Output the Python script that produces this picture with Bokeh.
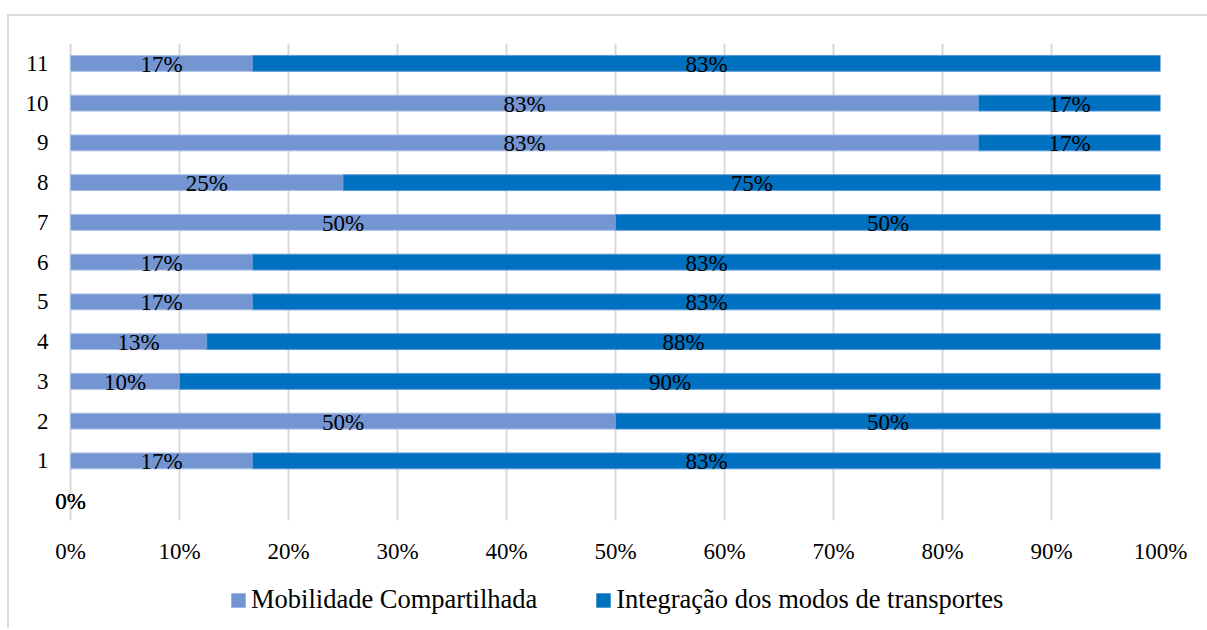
from bokeh.plotting import figure
from bokeh.layouts import column
from bokeh.models import ColumnDataSource, Range1d, FixedTicker, PrintfTickFormatter, Legend, LegendItem
from bokeh.core.properties import value
from bokeh.embed import file_html
from bokeh.resources import INLINE

# ---- data ----
categories = ["", "1", "2", "3", "4", "5", "6", "7", "8", "9", "10", "11"]
mobilidade = [0, 16.7, 50, 10, 12.5, 16.7, 16.7, 50, 25, 83.3, 83.3, 16.7]
integracao = [0, 83.3, 50, 90, 87.5, 83.3, 83.3, 50, 75, 16.7, 16.7, 83.3]
series_names = ["Mobilidade Compartilhada", "Integração dos modos de transportes"]
x_ticks = [0, 10, 20, 30, 40, 50, 60, 70, 80, 90, 100]

C_LIGHT = "#7396D3"
C_DARK = "#0070C0"
FONT = "Liberation Serif"
FS = "23px"

def pct(v):
    return f"{int(v + 0.5)}%"

allc = list(range(len(categories)))
idx = [i for i in allc if mobilidade[i] + integracao[i] > 0]
bars = ColumnDataSource(dict(
    y=idx,
    m=[mobilidade[i] for i in idx],
    zero=[0] * len(idx),
    l2=[mobilidade[i] for i in idx],
    r2=[mobilidade[i] + integracao[i] for i in idx],
))
labels = ColumnDataSource(dict(
    y=allc,
    c1=[mobilidade[i] / 2 for i in allc],
    c2=[mobilidade[i] + integracao[i] / 2 for i in allc],
    lab1=[pct(mobilidade[i]) for i in allc],
    lab2=[pct(integracao[i]) for i in allc],
))

PLOT_W = 1090          # px for 0..100 %
PAD = 18               # extra px of frame to the left of 0 %
x_start = -PAD * 100.0 / PLOT_W

p = figure(width=1198, height=554,
           x_range=Range1d(x_start, 100), y_range=Range1d(-0.5, 11.5),
           output_backend="svg", toolbar_location=None,
           min_border_left=61 - PAD, min_border_right=47, min_border_top=27, min_border_bottom=50)
p.outline_line_color = None
p.background_fill_color = "white"
p.border_fill_color = "white"

r1 = p.hbar(y="y", left="zero", right="m", height=0.4, source=bars,
            fill_color=C_LIGHT, line_color="#A9C0E6", line_width=1)
r2 = p.hbar(y="y", left="l2", right="r2", height=0.4, source=bars,
            fill_color=C_DARK, line_color="#5B9BD5", line_width=1)

p.text(x="c1", y="y", text="lab1", source=labels, text_align="center", text_baseline="middle",
       text_font=value(FONT), text_font_size=FS, text_color="black", y_offset=1)
p.text(x="c2", y="y", text="lab2", source=labels, text_align="center", text_baseline="middle",
       text_font=value(FONT), text_font_size=FS, text_color="black", y_offset=1)

# axes
p.xaxis.ticker = FixedTicker(ticks=x_ticks)
p.xaxis.formatter = PrintfTickFormatter(format="%d%%")
p.yaxis.ticker = FixedTicker(ticks=idx)
p.yaxis.major_label_overrides = {i: categories[i] for i in allc}
for ax in (p.xaxis, p.yaxis):
    ax.axis_line_color = None
    ax.major_tick_line_color = None
    ax.minor_tick_line_color = None
    ax.major_tick_out = 0
    ax.major_tick_in = 0
    ax.major_label_text_font = FONT
    ax.major_label_text_font_size = FS
    ax.major_label_text_color = "black"
p.xaxis.major_label_standoff = 18
p.yaxis.major_label_standoff = 22 - PAD

p.ygrid.grid_line_color = None
p.xgrid.ticker = FixedTicker(ticks=x_ticks)
p.xgrid.grid_line_color = "#d9d9d9"
p.xgrid.grid_line_width = 2

# legend strip (its swatch renderers sit outside the strip's visible range)
lg = figure(width=1198, height=58, x_range=Range1d(0, 1), y_range=Range1d(0, 1),
            output_backend="svg", toolbar_location=None,
            min_border_left=0, min_border_right=0, min_border_top=0, min_border_bottom=0)
lg.outline_line_color = None
lg.axis.visible = False
lg.grid.visible = False
lr1 = lg.hbar(y=[-5], left=[0], right=[1], height=0.4, fill_color=C_LIGHT, line_color=None)
lr2 = lg.hbar(y=[-5], left=[0], right=[1], height=0.4, fill_color=C_DARK, line_color=None)
legend = Legend(items=[LegendItem(label=series_names[0], renderers=[lr1]),
                       LegendItem(label=series_names[1], renderers=[lr2])],
                orientation="horizontal", location=(177, 13),
                label_text_font=FONT, label_text_font_size="26.5px", label_text_color="black",
                glyph_width=18, glyph_height=18, label_standoff=4, spacing=57,
                border_line_color=None, background_fill_alpha=0, margin=0, padding=0)
lg.add_layout(legend, "center")

layout = column(p, lg, spacing=0, margin=(14, 0, 0, 7),
                styles={"border-top": "2px solid #d9d9d9", "border-left": "2px solid #d9d9d9"})

open("out.html", "w").write(file_html(layout, INLINE))
